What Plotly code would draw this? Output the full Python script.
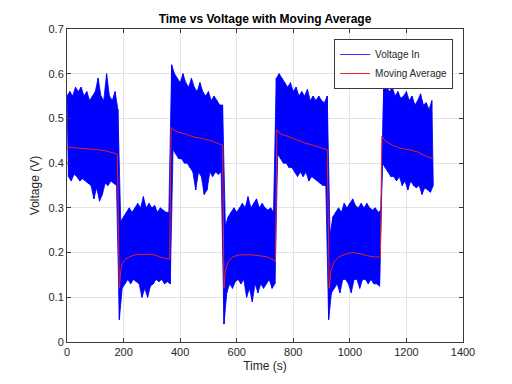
import plotly.graph_objects as go

# ---- data ----
# Voltage In: signal peaks (sampled at t = 0, 10, 20, ... s) and troughs (t = 5, 15, 25, ... s)
peak_t0, trough_t0, step_s = 0, 5, 10
peaks_v = [
    # high block 1 (0-180 s)
    0.55, 0.56, 0.55, 0.57, 0.56, 0.57, 0.55, 0.56, 0.54, 0.55, 0.56, 0.59, 0.55, 0.54, 0.60, 0.55, 0.54, 0.56, 0.52,
    # low block 2 (190-360 s)
    0.27, 0.28, 0.29, 0.30, 0.29, 0.30, 0.31, 0.30, 0.325, 0.30, 0.31, 0.30, 0.305, 0.29, 0.30, 0.295, 0.29, 0.29,
    # high block 3 (370-550 s)
    0.62, 0.60, 0.59, 0.58, 0.60, 0.58, 0.57, 0.59, 0.57, 0.56, 0.58, 0.56, 0.55, 0.56, 0.54, 0.55, 0.54, 0.53, 0.53,
    # low block 4 (560-730 s)
    0.26, 0.28, 0.29, 0.30, 0.29, 0.30, 0.31, 0.30, 0.325, 0.30, 0.31, 0.32, 0.30, 0.31, 0.30, 0.295, 0.30, 0.29,
    # high block 5 (740-920 s)
    0.59, 0.60, 0.59, 0.58, 0.57, 0.58, 0.56, 0.57, 0.55, 0.56, 0.55, 0.565, 0.54, 0.55, 0.54, 0.55, 0.54, 0.535, 0.55,
    # low block 6 (930-1110 s)
    0.24, 0.28, 0.29, 0.30, 0.29, 0.31, 0.30, 0.31, 0.32, 0.305, 0.30, 0.31, 0.30, 0.31, 0.30, 0.295, 0.30, 0.29, 0.295,
    # high block 7 (1120-1290 s)
    0.58, 0.57, 0.56, 0.57, 0.55, 0.56, 0.545, 0.55, 0.56, 0.54, 0.55, 0.53, 0.54, 0.555, 0.53, 0.535, 0.52, 0.54,
]
troughs_v = [
    # high block 1 (5-175 s)
    0.37, 0.36, 0.375, 0.37, 0.36, 0.365, 0.36, 0.355, 0.35, 0.32, 0.345, 0.315, 0.33, 0.355, 0.35, 0.36, 0.355, 0.35,
    # low block 2 (185-365 s)
    0.05, 0.12, 0.13, 0.14, 0.13, 0.14, 0.135, 0.13, 0.10, 0.12, 0.10, 0.125, 0.13, 0.14, 0.135, 0.14, 0.13, 0.135, 0.13,
    # high block 3 (375-545 s)
    0.43, 0.42, 0.41, 0.41, 0.40, 0.40, 0.39, 0.38, 0.34, 0.38, 0.37, 0.33, 0.34, 0.38, 0.37, 0.38, 0.375, 0.38,
    # low block 4 (555-735 s)
    0.04, 0.11, 0.13, 0.12, 0.135, 0.14, 0.13, 0.14, 0.10, 0.12, 0.09, 0.13, 0.11, 0.13, 0.12, 0.13, 0.14, 0.12, 0.13,
    # high block 5 (745-915 s)
    0.42, 0.41, 0.40, 0.40, 0.39, 0.39, 0.38, 0.37, 0.38, 0.37, 0.38, 0.36, 0.37, 0.365, 0.36, 0.355, 0.35, 0.35,
    # low block 6 (925-1105 s)
    0.05, 0.11, 0.12, 0.13, 0.11, 0.14, 0.14, 0.13, 0.11, 0.14, 0.14, 0.12, 0.14, 0.14, 0.13, 0.14, 0.13, 0.13, 0.125,
    # high block 7 (1115-1295 s)
    0.40, 0.39, 0.38, 0.37, 0.37, 0.36, 0.37, 0.35, 0.36, 0.34, 0.36, 0.35, 0.345, 0.35, 0.33, 0.345, 0.34, 0.335, 0.35,
]

# Moving average
ma_t = [0, 20, 50, 80, 110, 140, 160, 178,
        185, 190, 195, 205, 220, 240, 280, 310, 330, 350, 363,
        368, 375, 390, 420, 450, 480, 510, 530, 550,
        555, 560, 570, 585, 610, 650, 680, 710, 730, 737,
        742, 755, 780, 810, 840, 870, 900, 920,
        927, 933, 945, 960, 990, 1010, 1040, 1060, 1090, 1108,
        1113, 1125, 1150, 1180, 1210, 1240, 1270, 1295]
ma_v = [0.435, 0.435, 0.433, 0.432, 0.43, 0.427, 0.424, 0.42,
        0.12, 0.16, 0.175, 0.185, 0.19, 0.195, 0.196, 0.195, 0.19, 0.188, 0.185,
        0.48, 0.475, 0.47, 0.465, 0.458, 0.455, 0.45, 0.445, 0.44,
        0.12, 0.16, 0.18, 0.19, 0.195, 0.195, 0.193, 0.19, 0.183, 0.18,
        0.475, 0.465, 0.46, 0.452, 0.445, 0.44, 0.435, 0.43,
        0.12, 0.16, 0.18, 0.19, 0.198, 0.2, 0.197, 0.193, 0.19, 0.19,
        0.46, 0.45, 0.44, 0.433, 0.43, 0.425, 0.415, 0.41]

x_ticks = [0, 200, 400, 600, 800, 1000, 1200, 1400]
y_ticks = [0, 0.1, 0.2, 0.3, 0.4, 0.5, 0.6, 0.7]
y_tick_labels = ["0", "0.1", "0.2", "0.3", "0.4", "0.5", "0.6", "0.7"]

peak_t = [peak_t0 + i * step_s for i in range(len(peaks_v))]
trough_t = [trough_t0 + i * step_s for i in range(len(troughs_v))]

# interleave peaks and troughs into one oscillating signal
sig_t, sig_v = [], []
for i in range(len(peaks_v)):
    sig_t += [peak_t[i], trough_t[i]]
    sig_v += [peaks_v[i], troughs_v[i]]

FONT = "Liberation Sans, Arial, sans-serif"
AX = "#262626"
BLUE = "#0000FF"

fig = go.Figure()
# dense band of the noisy signal (between trough and peak envelopes)
fig.add_trace(go.Scatter(x=trough_t, y=troughs_v, mode="lines", showlegend=False,
                         line=dict(color=BLUE, width=0.8), hoverinfo="skip"))
fig.add_trace(go.Scatter(x=peak_t, y=peaks_v, mode="lines", showlegend=False,
                         fill="tonexty", fillcolor=BLUE,
                         line=dict(color=BLUE, width=0.8), hoverinfo="skip"))
fig.add_trace(go.Scatter(x=sig_t, y=sig_v, mode="lines", name="Voltage In",
                         line=dict(color=BLUE, width=0.8)))
fig.add_trace(go.Scatter(x=ma_t, y=ma_v, mode="lines", name="Moving Average",
                         line=dict(color="#E8231E", width=1)))

axis_common = dict(showgrid=True, gridcolor="#E3E3E3", gridwidth=1,
                   showline=True, linecolor="#3A3A3A", linewidth=1, mirror="ticks",
                   ticks="inside", ticklen=4, tickcolor="#3A3A3A",
                   tickfont=dict(family=FONT, size=11, color=AX),
                   zeroline=False, automargin=False)

fig.update_xaxes(range=[0, 1400], tickvals=x_ticks,
                 title=dict(text="Time (s)", font=dict(family=FONT, size=12, color=AX), standoff=4),
                 **axis_common)
fig.update_yaxes(range=[0, 0.7], tickvals=y_ticks, ticktext=y_tick_labels,
                 title=dict(text="Voltage (V)", font=dict(family=FONT, size=12, color=AX), standoff=6),
                 **axis_common)

fig.update_layout(
    width=512, height=384,
    margin=dict(l=67, r=49, t=29, b=42, autoexpand=False),
    paper_bgcolor="white", plot_bgcolor="white",
    title=dict(text="<b>Time vs Voltage with Moving Average</b>",
               font=dict(family=FONT, size=12, color="black"),
               x=(67 + 463) / 2 / 512, xanchor="center", y=0.95, yanchor="middle"),
    legend=dict(x=0.975, y=0.968, xanchor="right", yanchor="top",
                bgcolor="white", bordercolor="#3A3A3A", borderwidth=1,
                font=dict(family=FONT, size=10, color=AX),
                itemwidth=30, tracegroupgap=0, traceorder="normal"),
    showlegend=True,
)

fig.write_html("out.html", config={"displayModeBar": False},
               post_script="document.body.style.margin='0';")
